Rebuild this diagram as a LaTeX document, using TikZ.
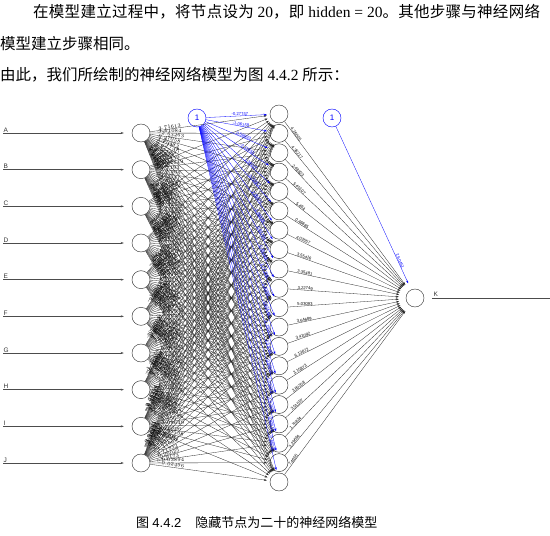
\documentclass[tikz,border=0pt]{standalone}
\usepackage{fontspec}
\setmainfont{Liberation Serif}
\newfontfamily\cjkfont{Noto Sans CJK SC}
\newfontfamily\cjkwide[LetterSpace=1.8]{Noto Sans CJK SC}
\newfontfamily\netfont{Liberation Sans}
\usetikzlibrary{arrows.meta,calc}
\newcommand\zh[1]{{\cjkfont #1}}
\newcommand\zhw[1]{{\cjkwide #1}}

\begin{document}
\begin{tikzpicture}[x=1pt,y=-1pt,
    neuron/.style={circle,draw=black!80,minimum size=18pt,inner sep=0pt,line width=0.45pt},
    biasnode/.style={neuron,draw=blue,text=blue,font=\netfont\fontsize{8}{8}\selectfont},
    wire/.style={-{Stealth[length=3pt,width=2pt]},draw=black!85,line width=0.3pt},
    biaswire/.style={wire,draw=blue},
    inwire/.style={-{Stealth[length=3pt,width=2pt]},draw=black!70,line width=0.5pt,shorten >=8pt},
    inlabel/.style={font=\netfont\fontsize{6.5}{6.5}\selectfont,text=black!80,inner sep=0.5pt},
    wlabel/.style={font=\netfont\fontsize{4.2}{4.2}\selectfont,sloped,above,inner sep=0.2pt},
    body/.style={anchor=west,inner sep=0pt,font=\fontsize{15.5}{15.5}\selectfont},
  ]
    \useasboundingbox (0,0) rectangle (550,536);

    % text above the figure
    \node[body] (line1) at (33,12)
      {\zhw{在模型建立过程中，将节点设为}\ 20\zhw{，即}\ hidden = 20\zhw{。其他步骤与神经网络}};
    \node[body] (line2) at (0,44) {\zh{模型建立步骤相同。}};
    \node[body] (line3) at (0,75)
      {\zh{由此，我们所绘制的神经网络模型为图} 4.4.2 \zh{所示：}};

    % input layer
    \foreach \lab [count=\i from 0] in {A,B,C,D,E,F,G,H,I,J}{
      \pgfmathsetmacro\yy{133+36.667*\i}
      \node[neuron] (x\i) at (141,\yy) {};
      \coordinate (e\i) at (3,\yy);
      \node[inlabel,anchor=south west] (l\i) at (e\i) {\lab};
      \draw[inwire] (e\i) -- (x\i);
    }

    % hidden layer, output, bias nodes
    \foreach \j in {0,...,19}{
      \pgfmathsetmacro\yy{114+19.368*\j}
      \node[neuron] (h\j) at (279,\yy) {};
    }
    \node[neuron] (out) at (415,298) {};
    \node[biasnode] (b1) at (197,118) {1};
    \node[biasnode] (b2) at (332,118) {1};

    % input -> hidden
    \pgfmathsetseed{4421}
    \foreach \i in {0,...,9}{
      \foreach \j in {0,...,19}{
        \pgfmathsetmacro\len{veclen(138,(114+19.368*\j)-(133+36.667*\i))}
        \pgfmathsetmacro\p{20/(\len-18)}
        \pgfmathsetmacro\wt{rand*4}
        \draw[wire,shorten >=3pt] (x\i) -- (h\j)
          node[wlabel,pos=\p] {\pgfmathprintnumber[fixed,precision=5]{\wt}};
      }
    }

    % bias -> hidden
    \foreach \w [count=\j from 0] in {-0.27747,-1.06159,0.58693,-2.11853,1.34027,
        -0.73312,2.05471,-1.48926,0.91764,-0.35018,1.77205,-2.40361,0.62448,
        -1.15537,2.31186,-0.84902,1.05339,-1.92674,0.40815,-0.66291}{
      \pgfmathsetmacro\len{veclen(82,(114+19.368*\j)-118)}
      \pgfmathsetmacro\p{1-30/(\len-18)}
      \draw[biaswire,shorten >=3pt] (b1) -- (h\j)
        node[wlabel,text=blue,pos=\p] {\w};
    }

    % hidden -> output
    \foreach \w [count=\j from 0] in {4.26005,4.35217,2.48823,5.45107,5.494,
        0.46885,4.03557,3.55416,3.35481,3.22749,5.03093,3.64689,3.41092,
        6.13872,3.15873,3.80208,3.51557,1.75824,3.29664,7.4655}{
      \pgfmathsetmacro\len{veclen(136,298-(114+19.368*\j))}
      \pgfmathsetmacro\p{17/(\len-18)}
      \draw[wire,shorten >=7pt] (h\j) -- (out)
        node[wlabel,pos=\p] {\w};
    }
    \draw[biaswire,shorten >=7pt] (b2) -- (out)
      node[wlabel,text=blue,pos=0.83] {2.60451};

    % output
    \coordinate (k) at (550,298);
    \draw[draw=black!70,line width=0.5pt,shorten <=8pt] (out) -- (k);
    \node[inlabel,anchor=south west] (klab) at (433,297) {K};

    % caption
    \node[anchor=west,inner sep=0pt,font=\fontsize{13}{13}\selectfont] (cap) at (136,522)
      {\zh{图} {\netfont 4.4.2}\hspace{14pt}\zh{隐藏节点为二十的神经网络模型}};
  \end{tikzpicture}
\end{document}
